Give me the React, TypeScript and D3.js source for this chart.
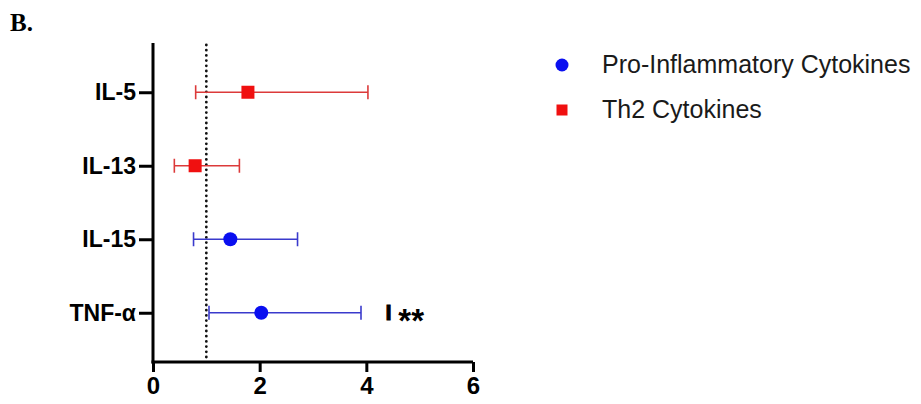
import React, { useEffect, useRef } from "react";
import * as d3 from "d3";

const cytokines = ["IL-5", "IL-13", "IL-15", "TNF-α"];
const groups = ["Th2", "Th2", "Pro", "Pro"];
const estimates = [1.78, 0.79, 1.45, 2.03];
const lowerCI = [0.8, 0.4, 0.76, 1.05];
const upperCI = [4.03, 1.62, 2.71, 3.9];
const xTicks = [0, 2, 4, 6];
const legendLabels = ["Pro-Inflammatory Cytokines", "Th2 Cytokines"];

const markerColor = { Pro: "#0a0ff0", Th2: "#f01010" };
const barColor = { Pro: "#3a3acc", Th2: "#dc3a3a" };

function App() {
  const ref = useRef(null);

  useEffect(() => {
    const svg = d3.select(ref.current);
    svg.selectAll("*").remove();

    const margins = { top: 43, left: 153, bottom: 362, right: 473 };
    const sans = "Liberation Sans, Arial, sans-serif";

    const xScale = d3.scaleLinear().domain([0, 6]).range([margins.left, margins.right]);
    const yScale = d3
      .scalePoint()
      .domain(cytokines)
      .range([margins.top, margins.bottom])
      .padding(0.67);

    // panel letter
    svg
      .append("text")
      .attr("x", 10)
      .attr("y", 31)
      .attr("font-family", "Liberation Serif, serif")
      .attr("font-weight", "bold")
      .attr("font-size", 25)
      .text("B.");

    // reference line at 1
    svg
      .append("line")
      .attr("x1", xScale(1))
      .attr("x2", xScale(1))
      .attr("y1", margins.top + 2)
      .attr("y2", margins.bottom)
      .attr("stroke", "#111")
      .attr("stroke-width", 2.8)
      .attr("stroke-linecap", "round")
      .attr("stroke-dasharray", "0,5.2");

    // axes
    const yAxis = svg
      .append("g")
      .attr("transform", `translate(${margins.left},0)`)
      .call(d3.axisLeft(yScale).tickSize(14).tickPadding(3));
    const xAxis = svg
      .append("g")
      .attr("transform", `translate(0,${margins.bottom})`)
      .call(
        d3.axisBottom(xScale).tickValues(xTicks).tickFormat(d3.format("d")).tickSize(10).tickPadding(5)
      );

    [yAxis, xAxis].forEach((ax) => {
      ax.attr("font-family", sans).attr("font-size", 23).attr("font-weight", "bold");
      ax.select(".domain").attr("stroke", "#000").attr("stroke-width", 3);
      ax.selectAll(".tick line").attr("stroke", "#000").attr("stroke-width", 3);
      ax.selectAll(".tick text").attr("fill", "#000");
    });
    xAxis.attr("font-size", 24);
    // draw the y domain from the top down to the x axis
    yAxis.select(".domain").attr("d", `M0,${margins.top}V${margins.bottom + 1.5}`);
    xAxis.select(".domain").attr("d", `M${margins.left - 1.5},0H${margins.right}`);

    // error bars
    const rows = cytokines.map((c, i) => ({
      name: c,
      group: groups[i],
      est: estimates[i],
      lo: lowerCI[i],
      hi: upperCI[i],
    }));

    const bars = svg.append("g").selectAll("g").data(rows).join("g");
    bars
      .append("line")
      .attr("x1", (d) => xScale(d.lo))
      .attr("x2", (d) => xScale(d.hi))
      .attr("y1", (d) => yScale(d.name))
      .attr("y2", (d) => yScale(d.name))
      .attr("stroke", (d) => barColor[d.group])
      .attr("stroke-width", 1.6);
    ["lo", "hi"].forEach((k) => {
      bars
        .append("line")
        .attr("x1", (d) => xScale(d[k]))
        .attr("x2", (d) => xScale(d[k]))
        .attr("y1", (d) => yScale(d.name) - 7)
        .attr("y2", (d) => yScale(d.name) + 7)
        .attr("stroke", (d) => barColor[d.group])
        .attr("stroke-width", 1.6);
    });

    // markers
    bars
      .filter((d) => d.group === "Th2")
      .append("rect")
      .attr("x", (d) => xScale(d.est) - 6.5)
      .attr("y", (d) => yScale(d.name) - 6.5)
      .attr("width", 13)
      .attr("height", 13)
      .attr("fill", markerColor.Th2);
    bars
      .filter((d) => d.group === "Pro")
      .append("circle")
      .attr("cx", (d) => xScale(d.est))
      .attr("cy", (d) => yScale(d.name))
      .attr("r", 7)
      .attr("fill", markerColor.Pro);

    // significance mark for TNF-α
    const tnfY = yScale("TNF-α");
    svg
      .append("text")
      .attr("x", xScale(4.36))
      .attr("y", tnfY + 7)
      .attr("font-family", sans)
      .attr("font-weight", "bold")
      .attr("font-size", 22)
      .attr("stroke", "#000")
      .attr("stroke-width", 1)
      .text("I");
    svg
      .append("text")
      .attr("x", xScale(4.6))
      .attr("y", tnfY + 19)
      .attr("font-family", sans)
      .attr("font-weight", "bold")
      .attr("font-size", 33)
      .text("**");

    // legend
    const legend = svg.append("g").attr("transform", "translate(562,0)");
    legend.append("circle").attr("cx", 0).attr("cy", 65).attr("r", 6.5).attr("fill", markerColor.Pro);
    legend.append("rect").attr("x", -5.5).attr("y", 104.5).attr("width", 11).attr("height", 11).attr("fill", markerColor.Th2);
    legend
      .selectAll("text")
      .data(legendLabels)
      .join("text")
      .attr("x", 40)
      .attr("y", (d, i) => 73 + i * 45)
      .attr("font-family", sans)
      .attr("font-size", 25)
      .attr("fill", "#1a1a1a")
      .text((d) => d);
  }, []);

  return (
    <svg
      ref={ref}
      width={921}
      height={404}
      style={{ position: "absolute", left: 0, top: 0, background: "#fff" }}
    />
  );
}

export default App;
